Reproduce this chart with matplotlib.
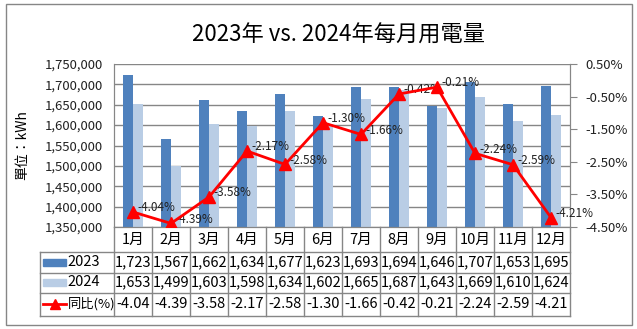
import matplotlib
matplotlib.use("Agg")
import matplotlib.pyplot as plt
from matplotlib.patches import Rectangle
from matplotlib.ticker import FuncFormatter

plt.rcParams['font.family'] = ['Noto Sans CJK TC', 'DejaVu Sans']

months = ['1月', '2月', '3月', '4月', '5月', '6月', '7月', '8月', '9月', '10月', '11月', '12月']
v2023 = [1723, 1567, 1662, 1634, 1677, 1623, 1693, 1694, 1646, 1707, 1653, 1695]
v2024 = [1653, 1499, 1603, 1598, 1634, 1602, 1665, 1687, 1643, 1669, 1610, 1624]
yoy = [-4.04, -4.39, -3.58, -2.17, -2.58, -1.30, -1.66, -0.42, -0.21, -2.24, -2.59, -4.21]
series_names = ['2023', '2024', '同比(%)']

c2023 = '#4F81BD'
c2024 = '#B9CDE5'
cred = '#FF0000'
gray = '#868686'

W, H = 637, 329
fig = plt.figure(figsize=(W / 100, H / 100), dpi=100)

# outer frame
fig.patches.append(Rectangle((6 / W, 4 / H), 626 / W, 321 / H, transform=fig.transFigure,
                             fill=False, edgecolor=gray, lw=1))

# plot area
ax = fig.add_axes([114 / W, (H - 227) / H, 456 / W, 163 / H])
x = list(range(len(months)))
bw = 0.27
ax.bar([i - bw / 2 for i in x], [v * 1000 for v in v2023], bw, color=c2023, zorder=2)
ax.bar([i + bw / 2 for i in x], [v * 1000 for v in v2024], bw, color=c2024, zorder=2)
ax.set_xlim(-0.5, len(months) - 0.5)
ax.set_ylim(1350000, 1750000)
ax.set_yticks(range(1350000, 1750001, 50000))
ax.yaxis.set_major_formatter(FuncFormatter(lambda v, p: f'{int(v):,}'))
ax.grid(axis='y', color=gray, lw=1, zorder=0)
ax.set_xticks([])
ax.tick_params(axis='y', length=0, labelsize=9.5, colors='#222222', pad=8)
for s in ['left', 'right', 'top', 'bottom']:
    ax.spines[s].set_color(gray)
ax.spines['top'].set_visible(False)
ax.set_ylabel('單位：kWh', fontsize=10, labelpad=11)

ax2 = ax.twinx()
ax2.plot(x, yoy, color=cred, lw=2, marker='^', markersize=8.5, zorder=5)
for i, v in enumerate(yoy):
    ax2.annotate(f'{v:.2f}%', (i, v), xytext=(3.5, 3), textcoords='offset points',
                 fontsize=8.5, ha='left', va='center', color='#222222')
ax2.set_ylim(-4.5, 0.5)
ax2.set_yticks([0.5, -0.5, -1.5, -2.5, -3.5, -4.5])
ax2.yaxis.set_major_formatter(FuncFormatter(lambda v, p: f'{v:.2f}%'))
ax2.tick_params(axis='y', direction='out', length=5, color=gray, labelsize=9.5,
                colors='#222222', pad=6)
for s in ['left', 'right', 'top', 'bottom']:
    ax2.spines[s].set_color(gray)
ax2.spines['top'].set_visible(False)

# data table
tab = fig.add_axes([40 / W, (H - 316) / H, 530 / W, 89 / H])
lab_w = 74 / 38
tab.set_xlim(-lab_w, len(months))
tab.set_ylim(89, 0)
tab.axis('off')
rows = [0, 25, 45.5, 65.5, 89]
for k in range(len(months) + 1):
    tab.plot([k, k], [rows[0], rows[-1]], color=gray, lw=1, clip_on=False)
tab.plot([-lab_w, -lab_w], [rows[1], rows[-1]], color=gray, lw=1, clip_on=False)
for r in rows[1:]:
    tab.plot([-lab_w, len(months)], [r, r], color=gray, lw=1, clip_on=False)

fs = 10.5
for i, m in enumerate(months):
    yc = (rows[0] + rows[1]) / 2
    tab.text(i + 0.5, yc, m, ha='center', va='center', fontsize=fs)
    tab.text(i + 0.5, (rows[1] + rows[2]) / 2, f'{v2023[i]:,}', ha='center', va='center', fontsize=fs)
    tab.text(i + 0.5, (rows[2] + rows[3]) / 2, f'{v2024[i]:,}', ha='center', va='center', fontsize=fs)
    tab.text(i + 0.5, (rows[3] + rows[4]) / 2, f'{yoy[i]:.2f}', ha='center', va='center', fontsize=fs)

# legend keys in row labels
kx0 = -lab_w + 3 / 38
kx1 = -lab_w + 26 / 38
for j, col in enumerate([c2023, c2024]):
    yc = (rows[1 + j] + rows[2 + j]) / 2
    tab.add_patch(Rectangle((kx0, yc - 3.5), kx1 - kx0, 7, color=col))
yc = (rows[3] + rows[4]) / 2
tab.plot([kx0, kx1], [yc, yc], color=cred, lw=2)
tab.plot([(kx0 + kx1) / 2], [yc], marker='^', color=cred, markersize=7)
for j, name in enumerate(series_names):
    yc = (rows[1 + j] + rows[2 + j]) / 2
    tab.text(kx1 + 1.5 / 38, yc, name, ha='left', va='center',
             fontsize=fs if j < 2 else 9.5)

fig.text(339 / W, (H - 35) / H, '2023年 vs. 2024年每月用電量', ha='center', va='center', fontsize=16)

fig.savefig('out.png', dpi=100)
